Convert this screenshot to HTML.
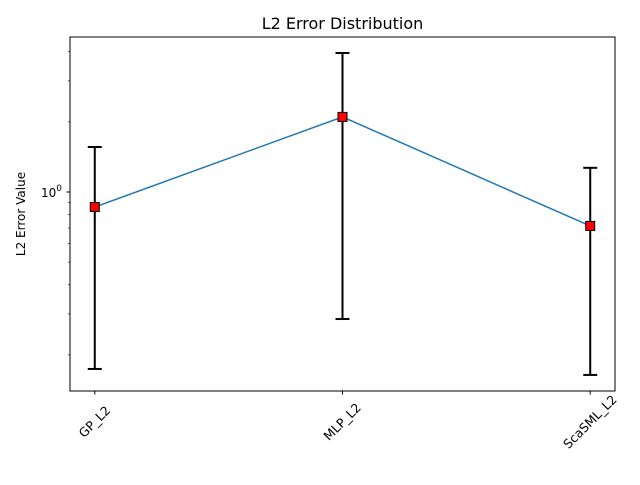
<!DOCTYPE html>
<html><head><meta charset="utf-8"><style>
body{margin:0;background:#fff;}
svg text{font-family:"DejaVu Sans","Liberation Sans",sans-serif;}
</style></head><body>
<svg id="chart" width="640" height="480" xmlns="http://www.w3.org/2000/svg">
<rect width="640" height="480" fill="#fff"/>
<text x="342.5" y="29" font-size="16" text-anchor="middle">L2 Error Distribution</text>
<text transform="translate(25,214) rotate(-90)" font-size="12" text-anchor="middle">L2 Error Value</text>
<g id="axes"></g>
<g id="marks"></g>
<rect x="70" y="37" width="545" height="354" fill="none" stroke="#000" stroke-width="1"/>
</svg>
<script>
const categories = ["GP_L2","MLP_L2","ScaSML_L2"];
const means = [0.862, 2.10, 0.715];
const upper = [1.56, 3.95, 1.27];
const lower = [0.174, 0.285, 0.164];
const minorTicks = [0.2,0.3,0.4,0.5,0.6,0.7,0.8,0.9,2,3,4];

const NS="http://www.w3.org/2000/svg";
const L=70,R=615,T=37,B=391;
const xs=i=>L+(i+0.1)/2.2*(R-L);
const ys=v=>192-233*Math.log10(v);
function mk(tag,attrs,parent){const e=document.createElementNS(NS,tag);for(const k in attrs)e.setAttribute(k,attrs[k]);parent.appendChild(e);return e;}
const ax=document.getElementById('axes'), mg=document.getElementById('marks');

let t=mk('line',{x1:L-3.5,x2:L,y1:ys(1),y2:ys(1),stroke:'#000'},ax);


let tl=mk('text',{x:L-8,y:ys(1)+5,'font-size':'12','text-anchor':'end'},ax);


const base=mk('tspan',{},tl); base.textContent='10';
const sup=mk('tspan',{'font-size':'9',dy:'-6'},tl); sup.textContent='0';
minorTicks.forEach(v=>{
  const m=mk('line',{x1:L-2,x2:L,y1:ys(v),y2:ys(v),stroke:'#000','stroke-width':0.6},ax);
  
  
});
categories.forEach((c,i)=>{
  const x=xs(i);
  const tk=mk('line',{x1:x,x2:x,y1:B,y2:B+3.5,stroke:'#000'},ax);
  
  
  const lb=mk('text',{transform:`translate(${x},${B+31}) rotate(-45)`,'font-size':'12.5','text-anchor':'middle',dy:'4'},ax);
  
  
  lb.textContent=c;
});
const ln=mk('polyline',{points:means.map((v,i)=>xs(i)+','+ys(v)).join(' '),fill:'none',stroke:'#1f77b4','stroke-width':1.5},mg);


means.forEach((v,i)=>{
  const x=xs(i);
  const g=mk('g',{},mg);
  
  
  mk('line',{x1:x,x2:x,y1:ys(upper[i]),y2:ys(lower[i]),stroke:'#000','stroke-width':2},g);
  mk('line',{x1:x-7,x2:x+7,y1:ys(upper[i]),y2:ys(upper[i]),stroke:'#000','stroke-width':2},g);
  mk('line',{x1:x-7,x2:x+7,y1:ys(lower[i]),y2:ys(lower[i]),stroke:'#000','stroke-width':2},g);
  const p=mk('rect',{x:x-4.5,y:ys(v)-4.5,width:9,height:9,fill:'#ff0000',stroke:'#000','stroke-width':1},mg);
  
  
});
</script>
</body></html>
